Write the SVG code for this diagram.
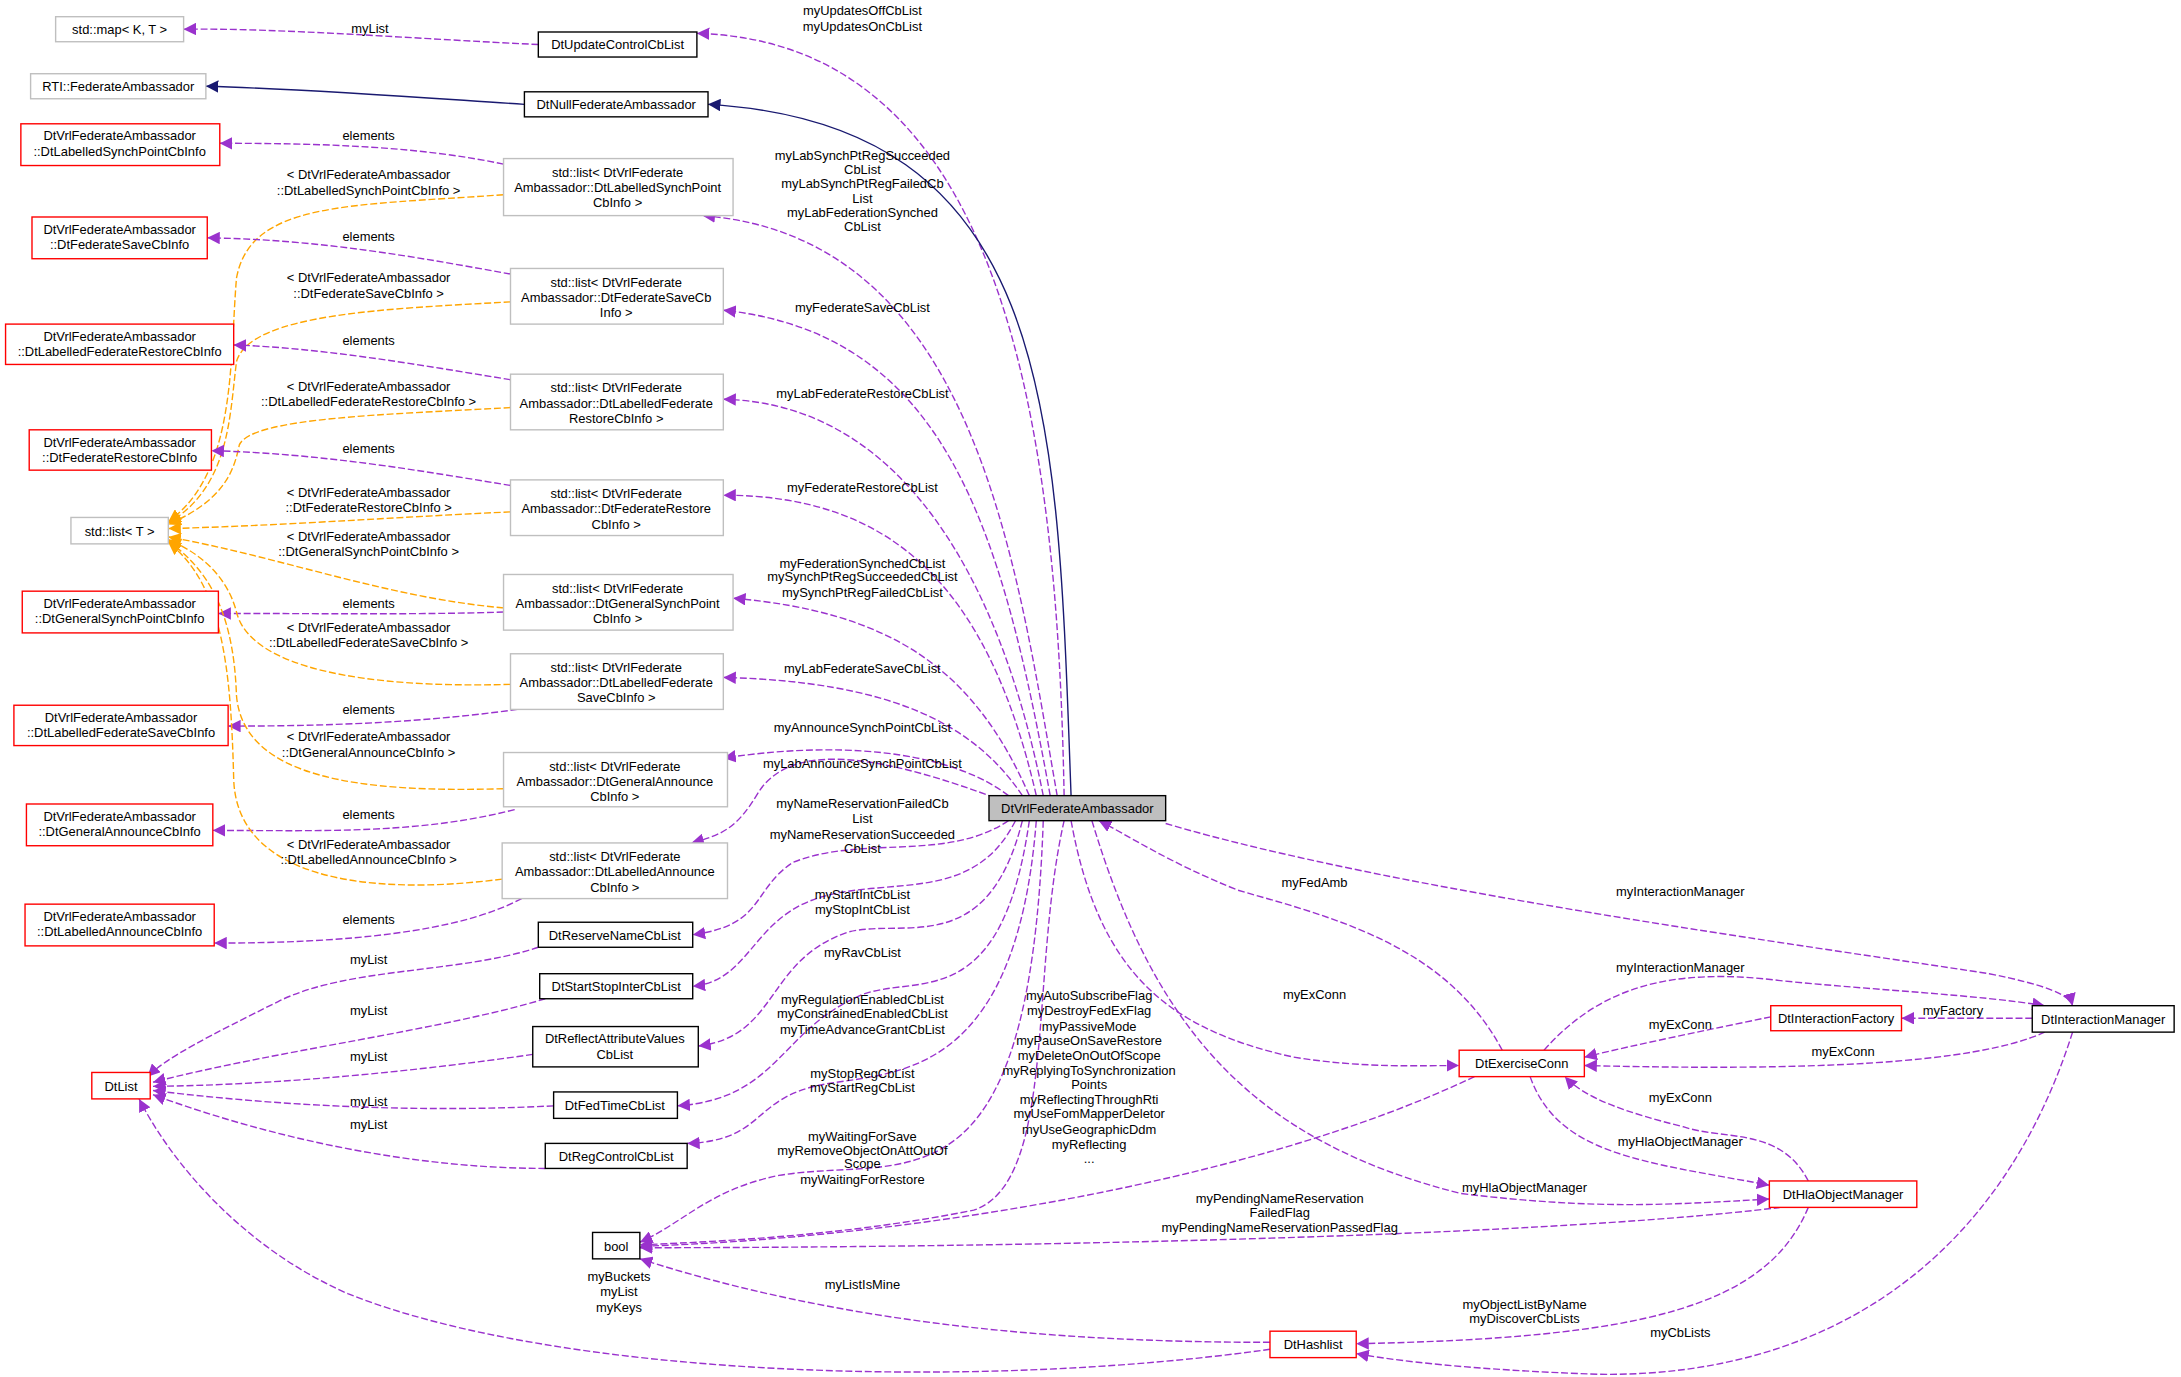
<svg xmlns="http://www.w3.org/2000/svg" width="2181" height="1377" viewBox="0 0 2181 1377">
<defs>
<marker id="ap" viewBox="0 0 10 10" refX="10" refY="5" markerWidth="9" markerHeight="9" markerUnits="userSpaceOnUse" orient="auto"><path d="M0,0 L10,5 L0,10 z" fill="#9a32cd"/></marker>
<marker id="ao" viewBox="0 0 10 10" refX="10" refY="5" markerWidth="9" markerHeight="9" markerUnits="userSpaceOnUse" orient="auto"><path d="M0,0 L10,5 L0,10 z" fill="#ffa500"/></marker>
<marker id="an" viewBox="0 0 10 10" refX="10" refY="5" markerWidth="9" markerHeight="9" markerUnits="userSpaceOnUse" orient="auto"><path d="M0,0 L10,5 L0,10 z" fill="#191970"/></marker>
</defs>
<style>
text{font-family:"Liberation Sans",Arial,sans-serif;font-size:9.3px;fill:#000;text-anchor:middle}
.n rect{fill:#fff;stroke-width:1}
.g rect{stroke:#bfbfbf}
.b rect{stroke:#000}
.r rect{stroke:#ff0000}
.e path{fill:none;stroke-width:1}
.p{stroke:#9a32cd;stroke-dasharray:5,2;marker-end:url(#ap)}
.o{stroke:#ffa500;stroke-dasharray:5,2;marker-end:url(#ao)}
.v{stroke:#191970;marker-end:url(#an)}
</style>
<rect width="2181" height="1377" fill="#fff"/>
<g transform="scale(1.391)">
<g id="edges" class="e">
<path class="p" d="M387,32 C300,28 200,20 132,21"/>
<path class="p" d="M765,572 C760,300 720,30 501,24"/>
<path class="v" d="M377,75 C300,70 220,64 148,62"/>
<path class="v" d="M770,572 C760,300 760,90 509,75"/>
<path class="p" d="M362,118 C300,105 230,103 158,103"/>
<path class="o" d="M362,140 C250,148 180,145 170,200 C165,260 170,340 121,375"/>
<path class="p" d="M760,572 C730,400 700,170 505,155"/>
<path class="p" d="M367,197 C300,185 230,172 149,171"/>
<path class="o" d="M367,217 C280,222 180,225 170,260 C165,300 165,350 121,376"/>
<path class="p" d="M755,572 C720,380 680,240 520,223"/>
<path class="p" d="M367,273 C300,262 230,250 168,248"/>
<path class="o" d="M367,293 C280,298 180,300 172,320 C168,340 160,360 121,377"/>
<path class="p" d="M750,572 C720,420 650,290 520,287"/>
<path class="p" d="M367,349 C300,338 230,326 152,324"/>
<path class="o" d="M367,368 C280,372 200,378 121,380"/>
<path class="p" d="M745,572 C710,420 640,356 520,356"/>
<path class="o" d="M362,437 C280,430 200,400 121,386"/>
<path class="p" d="M362,440 C300,442 230,441 157,441"/>
<path class="p" d="M740,572 C700,480 640,440 527,430"/>
<path class="o" d="M367,492 C260,495 180,480 170,440 C165,420 150,400 121,388"/>
<path class="p" d="M372,510 C300,520 230,522 164,522"/>
<path class="p" d="M735,572 C700,520 640,490 520,487"/>
<path class="o" d="M362,567 C260,570 175,560 170,500 C168,440 150,410 121,389"/>
<path class="p" d="M370,582 C300,600 230,597 153,597"/>
<path class="p" d="M725,572 C690,545 620,530 520,545"/>
<path class="o" d="M361,632 C260,645 170,630 168,560 C166,480 160,420 121,390"/>
<path class="p" d="M375,646 C330,670 250,678 154,678"/>
<path class="p" d="M722,576 C640,545 570,530 545,570 C530,595 520,600 497,606"/>
<path class="p" d="M725,590 C680,620 620,600 570,620 C540,640 550,665 498,672"/>
<path class="p" d="M730,590 C700,650 640,630 590,645 C540,660 540,705 498,709"/>
<path class="p" d="M735,590 C710,690 650,660 610,670 C550,690 560,745 502,752"/>
<path class="p" d="M740,590 C720,730 660,700 620,715 C560,740 560,790 487,795"/>
<path class="p" d="M745,590 C730,780 640,770 590,780 C540,790 550,820 494,822"/>
<path class="p" d="M750,590 C740,880 650,830 560,845 C510,855 490,880 460,893"/>
<path class="p" d="M765,590 C740,700 760,850 700,870 C600,890 500,893 460,895"/>
<path class="p" d="M1060,774 C900,850 650,890 460,896"/>
<path class="p" d="M1280,868 C1100,890 700,897 460,897"/>
<path class="p" d="M387,681 C330,700 250,695 200,720 C150,745 120,760 106,774"/>
<path class="p" d="M392,718 C320,740 200,755 110,778"/>
<path class="p" d="M383,758 C300,770 200,780 110,781"/>
<path class="p" d="M398,795 C300,800 200,795 110,784"/>
<path class="p" d="M392,840 C300,840 200,820 110,787"/>
<path class="p" d="M913,970 C700,1000 400,990 250,930 C170,895 120,830 100,790"/>
<path class="p" d="M913,965 C750,965 600,950 460,905"/>
<path class="p" d="M1080,755 C1040,680 960,660 890,640 C840,620 810,600 790,590"/>
<path class="p" d="M770,590 C790,700 840,740 930,760 C980,768 1020,766 1049,766"/>
<path class="p" d="M838,592 C1000,640 1300,680 1430,700 C1470,708 1488,715 1490,723"/>
<path class="p" d="M1110,755 C1150,710 1200,695 1280,705 C1350,712 1420,715 1470,723"/>
<path class="p" d="M1273,731 C1230,740 1180,750 1139,760"/>
<path class="p" d="M1461,732 C1430,732 1400,732 1367,732"/>
<path class="p" d="M1470,742 C1420,765 1300,770 1139,766"/>
<path class="p" d="M1300,849 C1280,810 1240,820 1210,810 C1170,800 1140,790 1125,774"/>
<path class="p" d="M1100,774 C1120,830 1180,835 1272,852"/>
<path class="p" d="M785,590 C830,740 900,820 1050,858 C1150,870 1200,866 1272,862"/>
<path class="p" d="M1300,868 C1270,940 1180,962 975,966"/>
<path class="p" d="M1490,742 C1440,900 1320,990 1150,988 C1060,985 1000,978 975,973"/>
</g>
<g id="edge-labels">
<text x="266" y="24">myList</text>
<text x="620" y="11">myUpdatesOffCbList</text><text x="620" y="22">myUpdatesOnCbList</text>
<text x="265" y="101">elements</text>
<text x="265" y="129">&lt; DtVrlFederateAmbassador</text><text x="265" y="140">::DtLabelledSynchPointCbInfo &gt;</text>
<text x="620" y="115">myLabSynchPtRegSucceeded</text><text x="620" y="125">CbList</text><text x="620" y="135">myLabSynchPtRegFailedCb</text><text x="620" y="146">List</text><text x="620" y="156">myLabFederationSynched</text><text x="620" y="166">CbList</text>
<text x="265" y="173">elements</text>
<text x="265" y="203">&lt; DtVrlFederateAmbassador</text><text x="265" y="214">::DtFederateSaveCbInfo &gt;</text>
<text x="620" y="224">myFederateSaveCbList</text>
<text x="265" y="248">elements</text>
<text x="265" y="281">&lt; DtVrlFederateAmbassador</text><text x="265" y="292">::DtLabelledFederateRestoreCbInfo &gt;</text>
<text x="620" y="286">myLabFederateRestoreCbList</text>
<text x="265" y="326">elements</text>
<text x="265" y="357">&lt; DtVrlFederateAmbassador</text><text x="265" y="368">::DtFederateRestoreCbInfo &gt;</text>
<text x="620" y="354">myFederateRestoreCbList</text>
<text x="265" y="389">&lt; DtVrlFederateAmbassador</text><text x="265" y="400">::DtGeneralSynchPointCbInfo &gt;</text>
<text x="265" y="437">elements</text>
<text x="620" y="408">myFederationSynchedCbList</text><text x="620" y="418">mySynchPtRegSucceededCbList</text><text x="620" y="429">mySynchPtRegFailedCbList</text>
<text x="265" y="454">&lt; DtVrlFederateAmbassador</text><text x="265" y="465">::DtLabelledFederateSaveCbInfo &gt;</text>
<text x="265" y="513">elements</text>
<text x="620" y="484">myLabFederateSaveCbList</text>
<text x="265" y="533">&lt; DtVrlFederateAmbassador</text><text x="265" y="544">::DtGeneralAnnounceCbInfo &gt;</text>
<text x="265" y="589">elements</text>
<text x="620" y="526">myAnnounceSynchPointCbList</text>
<text x="620" y="552">myLabAnnounceSynchPointCbList</text>
<text x="265" y="610">&lt; DtVrlFederateAmbassador</text><text x="265" y="621">::DtLabelledAnnounceCbInfo &gt;</text>
<text x="265" y="664">elements</text>
<text x="620" y="581">myNameReservationFailedCb</text><text x="620" y="592">List</text><text x="620" y="603">myNameReservationSucceeded</text><text x="620" y="613">CbList</text>
<text x="620" y="646">myStartIntCbList</text><text x="620" y="657">myStopIntCbList</text>
<text x="620" y="688">myRavCbList</text>
<text x="620" y="722">myRegulationEnabledCbList</text><text x="620" y="732">myConstrainedEnabledCbList</text><text x="620" y="743">myTimeAdvanceGrantCbList</text>
<text x="620" y="775">myStopRegCbList</text><text x="620" y="785">myStartRegCbList</text>
<text x="620" y="820">myWaitingForSave</text><text x="620" y="830">myRemoveObjectOnAttOutOf</text><text x="620" y="840">Scope</text><text x="620" y="851">myWaitingForRestore</text>
<text x="783" y="719">myAutoSubscribeFlag</text><text x="783" y="730">myDestroyFedExFlag</text><text x="783" y="741">myPassiveMode</text><text x="783" y="751">myPauseOnSaveRestore</text><text x="783" y="762">myDeleteOnOutOfScope</text><text x="783" y="773">myReplyingToSynchronization</text><text x="783" y="783">Points</text><text x="783" y="794">myReflectingThroughRti</text><text x="783" y="804">myUseFomMapperDeletor</text><text x="783" y="815">myUseGeographicDdm</text><text x="783" y="826">myReflecting</text><text x="783" y="836">...</text>
<text x="265" y="693">myList</text><text x="265" y="730">myList</text><text x="265" y="763">myList</text><text x="265" y="795">myList</text><text x="265" y="812">myList</text>
<text x="445" y="921">myBuckets</text><text x="445" y="932">myList</text><text x="445" y="943">myKeys</text>
<text x="620" y="927">myListIsMine</text>
<text x="920" y="865">myPendingNameReservation</text><text x="920" y="875">FailedFlag</text><text x="920" y="886">myPendingNameReservationPassedFlag</text>
<text x="945" y="638">myFedAmb</text>
<text x="945" y="718">myExConn</text>
<text x="1208" y="644">myInteractionManager</text>
<text x="1208" y="699">myInteractionManager</text>
<text x="1208" y="740">myExConn</text>
<text x="1404" y="730">myFactory</text>
<text x="1325" y="759">myExConn</text>
<text x="1208" y="792">myExConn</text>
<text x="1208" y="824">myHlaObjectManager</text>
<text x="1096" y="857">myHlaObjectManager</text>
<text x="1096" y="941">myObjectListByName</text><text x="1096" y="951">myDiscoverCbLists</text>
<text x="1208" y="961">myCbLists</text>
</g>
<g id="n1" class="n g"><rect x="40" y="12" width="92" height="18"/><text x="86" y="24.5">std::map&lt; K, T &gt;</text></g>
<g id="n2" class="n b"><rect x="387" y="23" width="114" height="18"/><text x="444" y="35.5">DtUpdateControlCbList</text></g>
<g id="n3" class="n g"><rect x="22" y="53" width="126" height="18"/><text x="85" y="65.5">RTI::FederateAmbassador</text></g>
<g id="n4" class="n b"><rect x="377" y="66" width="132" height="18"/><text x="443" y="78.5">DtNullFederateAmbassador</text></g>
<g id="n5" class="n r"><rect x="15" y="89" width="143" height="30"/><text x="86" y="101">DtVrlFederateAmbassador</text><text x="86" y="112">::DtLabelledSynchPointCbInfo</text></g>
<g id="n6" class="n g"><rect x="362" y="114" width="165" height="41"/><text x="444" y="127">std::list&lt; DtVrlFederate</text><text x="444" y="138">Ambassador::DtLabelledSynchPoint</text><text x="444" y="149">CbInfo &gt;</text></g>
<g id="n7" class="n r"><rect x="23" y="156" width="126" height="30"/><text x="86" y="168">DtVrlFederateAmbassador</text><text x="86" y="179">::DtFederateSaveCbInfo</text></g>
<g id="n8" class="n g"><rect x="367" y="193" width="153" height="40"/><text x="443" y="206">std::list&lt; DtVrlFederate</text><text x="443" y="217">Ambassador::DtFederateSaveCb</text><text x="443" y="228">Info &gt;</text></g>
<g id="n9" class="n r"><rect x="4" y="233" width="164" height="29"/><text x="86" y="245">DtVrlFederateAmbassador</text><text x="86" y="256">::DtLabelledFederateRestoreCbInfo</text></g>
<g id="n10" class="n g"><rect x="367" y="269" width="153" height="40"/><text x="443" y="282">std::list&lt; DtVrlFederate</text><text x="443" y="293">Ambassador::DtLabelledFederate</text><text x="443" y="304">RestoreCbInfo &gt;</text></g>
<g id="n11" class="n r"><rect x="21" y="309" width="131" height="29"/><text x="86" y="321">DtVrlFederateAmbassador</text><text x="86" y="332">::DtFederateRestoreCbInfo</text></g>
<g id="n12" class="n g"><rect x="367" y="345" width="153" height="40"/><text x="443" y="358">std::list&lt; DtVrlFederate</text><text x="443" y="369">Ambassador::DtFederateRestore</text><text x="443" y="380">CbInfo &gt;</text></g>
<g id="n13" class="n g"><rect x="51" y="372" width="70" height="19"/><text x="86" y="385">std::list&lt; T &gt;</text></g>
<g id="n14" class="n g"><rect x="362" y="413" width="165" height="40"/><text x="444" y="426">std::list&lt; DtVrlFederate</text><text x="444" y="437">Ambassador::DtGeneralSynchPoint</text><text x="444" y="448">CbInfo &gt;</text></g>
<g id="n15" class="n r"><rect x="16" y="425" width="141" height="30"/><text x="86" y="437">DtVrlFederateAmbassador</text><text x="86" y="448">::DtGeneralSynchPointCbInfo</text></g>
<g id="n16" class="n g"><rect x="367" y="470" width="153" height="40"/><text x="443" y="483">std::list&lt; DtVrlFederate</text><text x="443" y="494">Ambassador::DtLabelledFederate</text><text x="443" y="505">SaveCbInfo &gt;</text></g>
<g id="n17" class="n r"><rect x="10" y="507" width="154" height="29"/><text x="87" y="519">DtVrlFederateAmbassador</text><text x="87" y="530">::DtLabelledFederateSaveCbInfo</text></g>
<g id="n18" class="n g"><rect x="362" y="541" width="161" height="39"/><text x="442" y="554">std::list&lt; DtVrlFederate</text><text x="442" y="565">Ambassador::DtGeneralAnnounce</text><text x="442" y="576">CbInfo &gt;</text></g>
<g id="n19" class="n r"><rect x="19" y="578" width="134" height="30"/><text x="86" y="590">DtVrlFederateAmbassador</text><text x="86" y="601">::DtGeneralAnnounceCbInfo</text></g>
<g id="n20" class="n g"><rect x="361" y="606" width="162" height="40"/><text x="442" y="619">std::list&lt; DtVrlFederate</text><text x="442" y="630">Ambassador::DtLabelledAnnounce</text><text x="442" y="641">CbInfo &gt;</text></g>
<g id="n21" class="n r"><rect x="18" y="650" width="136" height="30"/><text x="86" y="662">DtVrlFederateAmbassador</text><text x="86" y="673">::DtLabelledAnnounceCbInfo</text></g>
<g id="n22" class="n b"><rect x="387" y="663" width="111" height="18"/><text x="442" y="675.5">DtReserveNameCbList</text></g>
<g id="n23" class="n b"><rect x="388" y="700" width="110" height="18"/><text x="443" y="712.5">DtStartStopInterCbList</text></g>
<g id="n24" class="n b"><rect x="383" y="738" width="119" height="29"/><text x="442" y="750">DtReflectAttributeValues</text><text x="442" y="761">CbList</text></g>
<g id="n25" class="n b"><rect x="398" y="785" width="89" height="19"/><text x="442" y="798">DtFedTimeCbList</text></g>
<g id="n26" class="n b"><rect x="392" y="822" width="102" height="18"/><text x="443" y="834.5">DtRegControlCbList</text></g>
<g id="n27" class="n r"><rect x="66" y="771" width="42" height="19"/><text x="87" y="784">DtList</text></g>
<g id="n28" class="n b"><rect x="426" y="886" width="34" height="19"/><text x="443" y="899">bool</text></g>
<g id="n29" class="n b"><rect x="711" y="572" width="127" height="18" style="fill:#bfbfbf"/><text x="774.5" y="584.5">DtVrlFederateAmbassador</text></g>
<g id="n30" class="n r"><rect x="1049" y="755" width="90" height="19"/><text x="1094" y="768">DtExerciseConn</text></g>
<g id="n31" class="n r"><rect x="1273" y="723" width="94" height="18"/><text x="1320" y="735.5">DtInteractionFactory</text></g>
<g id="n32" class="n b"><rect x="1461" y="723" width="102" height="19"/><text x="1512" y="736">DtInteractionManager</text></g>
<g id="n33" class="n r"><rect x="1272" y="849" width="106" height="19"/><text x="1325" y="862">DtHlaObjectManager</text></g>
<g id="n34" class="n r"><rect x="913" y="957" width="62" height="19"/><text x="944" y="970">DtHashlist</text></g>
</g>
</svg>
